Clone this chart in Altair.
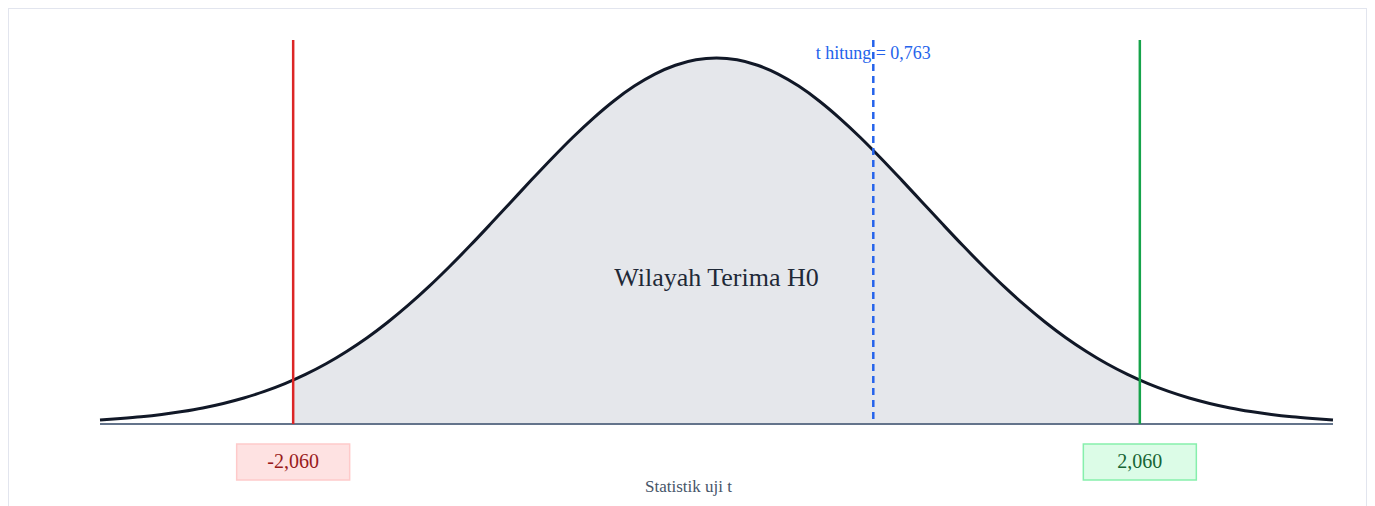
import altair as alt
import pandas as pd

# density curve (x step 0.1 from -3 to 3)
x_vals = [round(-3 + 0.1 * i, 1) for i in range(61)]
dens = [0.0044, 0.0060, 0.0079, 0.0104, 0.0136, 0.0175, 0.0224, 0.0283, 0.0355, 0.0440,
        0.0540, 0.0656, 0.0790, 0.0940, 0.1109, 0.1295, 0.1497, 0.1714, 0.1942, 0.2179,
        0.2420, 0.2661, 0.2897, 0.3123, 0.3332, 0.3521, 0.3683, 0.3814, 0.3910, 0.3970,
        0.3989,
        0.3970, 0.3910, 0.3814, 0.3683, 0.3521, 0.3332, 0.3123, 0.2897, 0.2661, 0.2420,
        0.2179, 0.1942, 0.1714, 0.1497, 0.1295, 0.1109, 0.0940, 0.0790, 0.0656, 0.0540,
        0.0440, 0.0355, 0.0283, 0.0224, 0.0175, 0.0136, 0.0104, 0.0079, 0.0060, 0.0044]

# acceptance region points
acc_x = [-2.06] + [round(-2.0 + 0.1 * i, 1) for i in range(41)] + [2.06]
acc_d = [0.0478] + dens[10:51] + [0.0478]

t_crit_low = -2.060
t_crit_high = 2.060
t_hitung = 0.763
line_top = 0.4185

crit_labels = ["-2,060", "2,060"]
crit_vals = [t_crit_low, t_crit_high]

W = 1359
H = 540

curve_df = pd.DataFrame({"x": x_vals, "d": dens})
acc_df = pd.DataFrame({"x": acc_x, "d": acc_d, "z": [0.0] * len(acc_x)})

xs = alt.Scale(domain=[-3, 3], range=[92, 1325], nice=False, zero=False)
ys = alt.Scale(domain=[0, 0.4], range=[416, 49], nice=False, zero=False)


def X(f):
    return alt.X(f, type="quantitative", scale=xs, axis=None)


def Y(f):
    return alt.Y(f, type="quantitative", scale=ys, axis=None)


area = alt.Chart(acc_df).mark_area(color="#e5e7eb", interpolate="monotone").encode(
    x=X("x"), y=Y("d"), y2="z"
)

baseline = alt.Chart(pd.DataFrame({"x": [-3.0], "x2": [3.0], "z": [0.0]})).mark_rule(
    color="#64748b", strokeWidth=2
).encode(x=X("x"), x2="x2", y=Y("z"))

curve = alt.Chart(curve_df).mark_line(
    color="#111827", strokeWidth=3, interpolate="monotone"
).encode(x=X("x"), y=Y("d"))

vdf = pd.DataFrame({
    "x": [t_crit_low, t_crit_high],
    "c": ["#dc2626", "#16a34a"],
    "z": [0.0, 0.0],
    "top": [line_top, line_top],
})
vlines = alt.Chart(vdf).mark_rule(strokeWidth=2.5).encode(
    x=X("x"), y=Y("top"), y2="z",
    color=alt.Color("c:N", scale=None)
)

tdf = pd.DataFrame({"x": [t_hitung], "lab": ["t hitung = 0,763"], "z": [0.0],
                    "top": [line_top], "ly": [0.4033]})
tline = alt.Chart(tdf).mark_rule(
    strokeWidth=2.5, color="#2563eb", strokeDash=[7, 5]
).encode(x=X("x"), y=Y("top"), y2="z")

ttext = alt.Chart(tdf).mark_text(
    font="Liberation Serif", fontSize=18, color="#2563eb", baseline="middle", align="center"
).encode(x=X("x"), y=Y("ly"), text="lab")

region_text = alt.Chart(pd.DataFrame({"x": [0.0], "ly": [0.159], "lab": ["Wilayah Terima H0"]})).mark_text(
    font="Liberation Serif", fontSize=26, color="#1f2937", baseline="middle", align="center"
).encode(x=X("x"), y=Y("ly"), text="lab")

bdf = pd.DataFrame({
    "x": crit_vals, "lab": crit_labels, "z": [0.0, 0.0],
    "fill": ["#fee2e2", "#dcfce7"], "stroke": ["#fecaca", "#86efac"],
    "tc": ["#991b1b", "#166534"],
})
boxes = alt.Chart(bdf).mark_rect(
    xOffset=-56.5, x2Offset=56.5, yOffset=20, y2Offset=56, strokeWidth=1.5
).encode(
    x=X("x"), x2="x", y=Y("z"), y2="z",
    fill=alt.Fill("fill:N", scale=None), stroke=alt.Stroke("stroke:N", scale=None)
)
btext = alt.Chart(bdf).mark_text(
    font="Liberation Serif", fontSize=20, baseline="middle", align="center", dy=38
).encode(
    x=X("x"), y=Y("z"), text="lab", color=alt.Color("tc:N", scale=None)
)

xtitle = alt.Chart(pd.DataFrame({"lab": ["Statistik uji t"], "z": [0.0]})).mark_text(
    font="Liberation Serif", fontSize=17, color="#475569", baseline="middle", align="center", dy=63
).encode(x=alt.value(W / 2 + 1), y=Y("z"), text="lab")

chart = alt.layer(
    area, baseline, curve, vlines, tline, ttext, region_text, boxes, btext, xtitle
).properties(
    width=W, height=H, padding=0, background="white"
).configure_view(
    stroke="#e2e5ee", strokeWidth=2, fill="white"
)

chart.save("out.html", embed_options={"renderer": "svg", "actions": False})
